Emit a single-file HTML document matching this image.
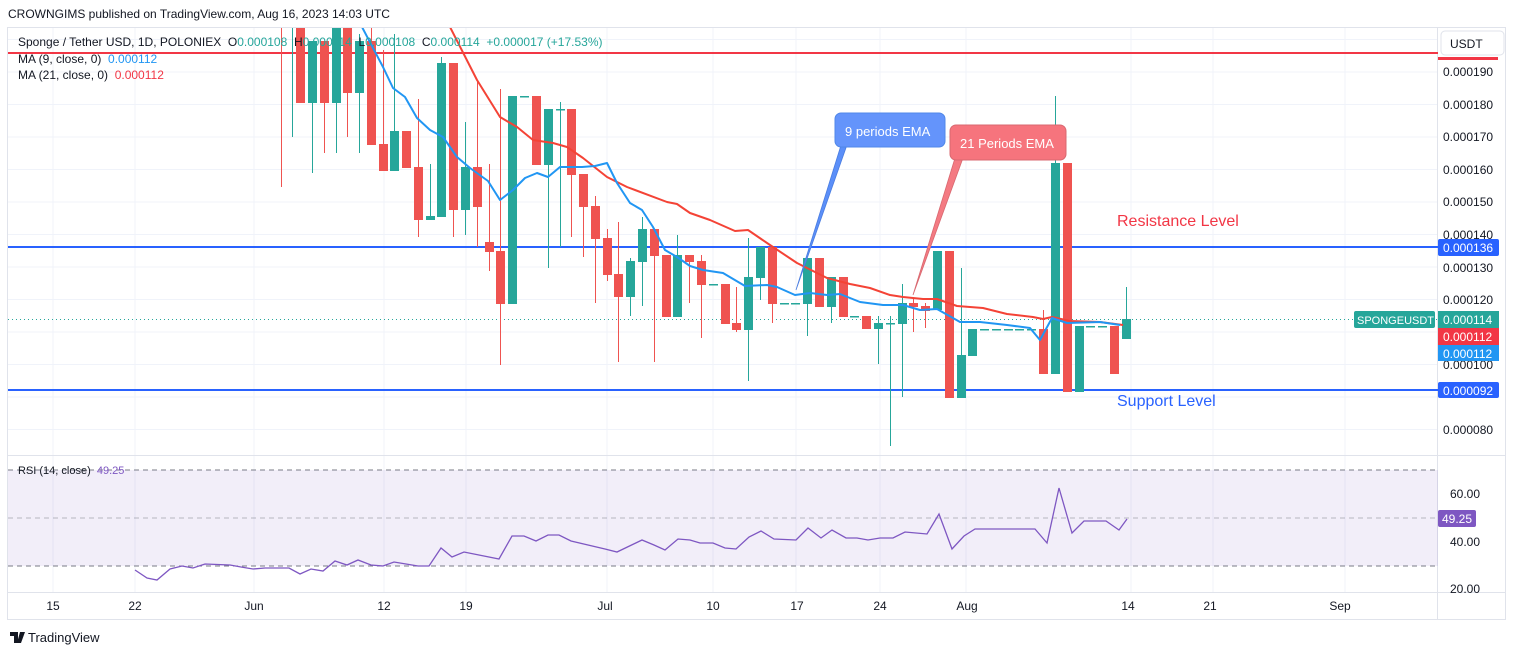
<!DOCTYPE html>
<html><head><meta charset="utf-8"><style>
body{margin:0;background:#fff;width:1515px;height:655px;overflow:hidden;font-family:"Liberation Sans",sans-serif}
svg text{font-family:"Liberation Sans",sans-serif;white-space:pre}
</style></head><body>
<svg width="1515" height="655" viewBox="0 0 1515 655" xmlns="http://www.w3.org/2000/svg" xml:space="preserve">
<defs><clipPath id="mp"><rect x="8" y="28" width="1430" height="427"/></clipPath>
<clipPath id="rp"><rect x="8" y="456" width="1430" height="136"/></clipPath></defs>
<text x="8" y="18" font-size="12" fill="#131722">CROWNGIMS published on TradingView.com, Aug 16, 2023 14:03 UTC</text>
<rect x="7.5" y="27.5" width="1498" height="592" fill="#fff" stroke="#e0e3eb"/>
<g stroke="#f0f3fa" stroke-width="1">
<path d="M8 39.5H1438M8 72H1438M8 104.5H1438M8 137H1438M8 169.5H1438M8 202H1438M8 234.5H1438M8 267H1438M8 299.5H1438M8 332H1438M8 364.5H1438M8 397H1438M8 429.5H1438"/>
<path d="M53 28V592M135 28V592M254 28V592M384 28V592M466 28V592M607 28V592M713 28V592M796 28V592M880 28V592M966 28V592M1131 28V592M1213 28V592M1345 28V592"/>
</g>
<line x1="8" y1="455.5" x2="1505" y2="455.5" stroke="#e0e3eb"/>
<line x1="8" y1="592.5" x2="1505" y2="592.5" stroke="#e0e3eb"/>
<line x1="1437.5" y1="28" x2="1437.5" y2="620" stroke="#e0e3eb"/>
<g clip-path="url(#mp)">
<line x1="8" y1="53" x2="1438" y2="53" stroke="#f23645" stroke-width="2"/>
<line x1="8" y1="247" x2="1438" y2="247" stroke="#2962ff" stroke-width="2"/>
<line x1="8" y1="390" x2="1438" y2="390" stroke="#2962ff" stroke-width="2"/>
<line x1="8" y1="319.5" x2="1438" y2="319.5" stroke="#26a69a" stroke-dasharray="1 3"/>
<g fill="#26a69a" stroke="#26a69a" stroke-width="1">
<path fill="none" d="M292.5 20V137M312.5 41V173M336.5 20V153M359.5 34V153M394.5 34V171M430.5 164V220M441.5 57V217M465.5 122V235M548.5 109V268M560.5 102V247M630.5 258V316M642.5 217V306M677.5 235V317M748.5 238V381M760.5 247V300M807.5 258V336M831.5 277V323M878.5 316V364M890.5 316V446M902.5 284V397M961.5 268V398M1055.5 96V374M1126.5 287V339"/>
<g stroke="none">
<rect x="288" y="20" width="9" height="5"/><rect x="308" y="41" width="9" height="62"/><rect x="332" y="20" width="9" height="83"/><rect x="355" y="41" width="9" height="52"/><rect x="390" y="131" width="9" height="40"/><rect x="426" y="216" width="9" height="4"/><rect x="437" y="63" width="9" height="154"/><rect x="461" y="167" width="9" height="43"/><rect x="508" y="96" width="9" height="208"/><rect x="520" y="96" width="9" height="1.5"/><rect x="544" y="109" width="9" height="56"/><rect x="556" y="109" width="9" height="1.5"/><rect x="626" y="261" width="9" height="36"/><rect x="638" y="229" width="9" height="33"/><rect x="673" y="255" width="9" height="62"/><rect x="709" y="284" width="9" height="1.5"/><rect x="744" y="277" width="9" height="53"/><rect x="756" y="247" width="9" height="31"/><rect x="780" y="303" width="9" height="1.5"/><rect x="791" y="303" width="9" height="1.5"/><rect x="803" y="258" width="9" height="46"/><rect x="827" y="277" width="9" height="30"/><rect x="850" y="316" width="9" height="1.5"/><rect x="874" y="323" width="9" height="6"/><rect x="886" y="323" width="9" height="1.5"/><rect x="898" y="303" width="9" height="21"/><rect x="933" y="251" width="9" height="59"/><rect x="957" y="355" width="9" height="43"/><rect x="968" y="329" width="9" height="27"/><rect x="980" y="329" width="9" height="1.5"/><rect x="992" y="329" width="9" height="1.5"/><rect x="1004" y="329" width="9" height="1.5"/><rect x="1015" y="329" width="9" height="1.5"/><rect x="1027" y="329" width="9" height="1.5"/><rect x="1051" y="163" width="9" height="211"/><rect x="1075" y="326" width="9" height="66"/><rect x="1086" y="326" width="9" height="1.5"/><rect x="1098" y="326" width="9" height="1.5"/><rect x="1122" y="319" width="9" height="20"/>
</g></g>
<g fill="#ef5350" stroke="#ef5350" stroke-width="1">
<path fill="none" d="M281.5 20V187M324.5 41V153M347.5 20V137M371.5 20V145M383.5 50V171M418.5 99V237M453.5 63V237M477.5 80V247M489.5 164V271M500.5 89V365M571.5 109V237M583.5 174V257M595.5 196V303M607.5 229V281M618.5 222V362M654.5 229V362M689.5 255V303M701.5 255V338M736.5 287V332M772.5 247V323M913.5 299V332M925.5 303V328M1043.5 310V374"/>
<g stroke="none">
<rect x="296" y="20" width="9" height="83"/><rect x="320" y="41" width="9" height="62"/><rect x="343" y="20" width="9" height="73"/><rect x="367" y="41" width="9" height="104"/><rect x="379" y="144" width="9" height="27"/><rect x="402" y="131" width="9" height="37"/><rect x="414" y="167" width="9" height="53"/><rect x="449" y="63" width="9" height="147"/><rect x="473" y="167" width="9" height="40"/><rect x="485" y="242" width="9" height="10"/><rect x="496" y="251" width="9" height="53"/><rect x="532" y="96" width="9" height="69"/><rect x="567" y="109" width="9" height="66"/><rect x="579" y="174" width="9" height="33"/><rect x="591" y="206" width="9" height="33"/><rect x="603" y="238" width="9" height="37"/><rect x="614" y="274" width="9" height="23"/><rect x="650" y="229" width="9" height="27"/><rect x="662" y="255" width="9" height="62"/><rect x="685" y="255" width="9" height="7"/><rect x="697" y="261" width="9" height="24"/><rect x="721" y="284" width="9" height="40"/><rect x="732" y="323" width="9" height="7"/><rect x="768" y="247" width="9" height="57"/><rect x="815" y="258" width="9" height="49"/><rect x="839" y="277" width="9" height="40"/><rect x="862" y="316" width="9" height="13"/><rect x="909" y="303" width="9" height="4"/><rect x="921" y="306" width="9" height="5"/><rect x="945" y="251" width="9" height="147"/><rect x="1039" y="329" width="9" height="45"/><rect x="1063" y="163" width="9" height="229"/><rect x="1110" y="326" width="9" height="48"/>
</g></g>
<polyline fill="none" stroke="#f44336" stroke-width="2" stroke-linejoin="round" points="445,20 450,27 477,80 500,117 517,127 533,140 553,143 567,147 583,158 607,177 627,187 667,202 677,204 690,213 710,220 735,231 748,230 770,245 797,263 827,278 850,284 870,288 890,295 903,297 923,299 937,299 957,306 983,308 1007,314 1033,317 1043,319 1052,317 1070,321 1100,322 1123,325"/>
<polyline fill="none" stroke="#2196f3" stroke-width="2" stroke-linejoin="round" points="358,20 362,27 383,67 393,88 405,97 417,118 430,130 443,137 457,157 470,168 488,181 500,200 513,190 525,178 537,173 548,177 560,167 582,167 595,166 607,163 617,183 630,203 642,210 653,227 665,250 677,257 690,266 703,270 723,273 745,286 767,285 777,287 795,295 810,293 827,295 840,294 860,302 883,305 903,305 920,310 937,309 960,322 980,322 1007,325 1030,328 1040,340 1052,318 1067,323 1100,322 1120,325"/>
</g>
<path d="M842 142 L796 290 L848 142 Z" fill="#5b8ff9" stroke="#4a7de0" stroke-width="0.8"/>
<rect x="835" y="113" width="110" height="34" rx="6" fill="#6494fb" stroke="#5087e8"/>
<text x="845" y="136" font-size="13" fill="#fff">9 periods EMA</text>
<path d="M955 158 L913 295 L963 158 Z" fill="#f47a82" stroke="#d86870" stroke-width="0.8"/>
<rect x="950" y="125" width="116" height="35" rx="6" fill="#f6747d" stroke="#d86870"/>
<text x="960" y="148" font-size="13" fill="#fff">21 Periods EMA</text>
<text x="1117" y="226" font-size="16" fill="#f23645">Resistance Level</text>
<text x="1117" y="406" font-size="16" fill="#2962ff">Support Level</text>
<text x="18" y="46" font-size="12" fill="#131722">Sponge / Tether USD, 1D, POLONIEX  O<tspan fill="#26a69a">0.000108</tspan>  H<tspan fill="#26a69a">0.000114</tspan>  L<tspan fill="#26a69a">0.000108</tspan>  C<tspan fill="#26a69a">0.000114</tspan>  <tspan fill="#26a69a">+0.000017 (+17.53%)</tspan></text>
<text x="18" y="63" font-size="12" fill="#131722">MA (9, close, 0)  <tspan fill="#2196f3">0.000112</tspan></text>
<text x="18" y="79" font-size="12" fill="#131722">MA (21, close, 0)  <tspan fill="#f23645">0.000112</tspan></text>
<rect x="1441" y="31" width="63" height="24" rx="4" fill="#fff" stroke="#e0e3eb"/>
<text x="1450" y="48" font-size="12" fill="#131722">USDT</text>
<rect x="1438" y="57" width="60" height="3" fill="#f23645"/>
<g font-size="12" fill="#131722">
<text x="1443" y="76">0.000190</text><text x="1443" y="109">0.000180</text><text x="1443" y="141">0.000170</text><text x="1443" y="174">0.000160</text><text x="1443" y="206">0.000150</text><text x="1443" y="239">0.000140</text><text x="1443" y="272">0.000130</text><text x="1443" y="304">0.000120</text><text x="1443" y="369">0.000100</text><text x="1443" y="434">0.000080</text>
</g>
<rect x="1438" y="239" width="61" height="17" rx="2" fill="#2962ff"/><text x="1443" y="252" font-size="12" fill="#fff">0.000136</text>
<rect x="1354" y="311" width="81" height="17" rx="2" fill="#26a69a"/><text x="1357" y="324" font-size="11" fill="#fff">SPONGEUSDT</text>
<rect x="1438" y="311" width="61" height="17" fill="#26a69a"/><text x="1443" y="324" font-size="12" fill="#fff">0.000114</text>
<rect x="1438" y="328" width="61" height="17" fill="#f23645"/><text x="1443" y="341" font-size="12" fill="#fff">0.000112</text>
<rect x="1438" y="345" width="61" height="16" fill="#2196f3"/><text x="1443" y="358" font-size="12" fill="#fff">0.000112</text>
<rect x="1438" y="382" width="61" height="16" rx="2" fill="#2962ff"/><text x="1443" y="395" font-size="12" fill="#fff">0.000092</text>
<g clip-path="url(#rp)">
<rect x="8" y="470" width="1430" height="96" fill="#7e57c2" fill-opacity="0.1"/>
<g stroke="#787b86" stroke-dasharray="5 4" stroke-width="1">
<line x1="8" y1="470" x2="1438" y2="470"/><line x1="8" y1="518" x2="1438" y2="518" stroke-opacity="0.5"/><line x1="8" y1="566" x2="1438" y2="566"/></g>
<polyline fill="none" stroke="#7e57c2" stroke-width="1.3" points="135,570 147,578 157,580 170,569 182,566 193,568 205,564 230,565 241,567 253,569 265,568 289,568 300,574 311,569 323,571 335,561 347,565 358,560 371,565 383,566 394,562 406,564 418,566 429,566 441,548 452,557 464,552 499,559 512,536 524,536 536,541 548,535 559,535 571,541 605,549 617,552 642,540 654,545 665,550 678,539 690,540 700,543 713,543 725,548 736,549 749,537 761,531 774,539 796,540 808,528 821,538 832,530 846,538 857,538 868,540 880,538 893,538 905,532 927,534 939,514 952,549 964,536 975,529 1035,529 1047,543 1059,488 1072,533 1084,521 1106,521 1119,530 1127,519"/>
</g>
<text x="18" y="474" font-size="11" fill="#131722">RSI (14, close)  <tspan fill="#7e57c2">49.25</tspan></text>
<g font-size="12" fill="#131722"><text x="1450" y="498">60.00</text><text x="1450" y="546">40.00</text><text x="1450" y="593">20.00</text></g>
<rect x="1438" y="510" width="38" height="17" rx="2" fill="#7e57c2"/><text x="1442" y="523" font-size="12" fill="#fff">49.25</text>
<g font-size="12" fill="#131722" text-anchor="middle">
<text x="53" y="610">15</text><text x="135" y="610">22</text><text x="254" y="610">Jun</text><text x="384" y="610">12</text><text x="466" y="610">19</text><text x="605" y="610">Jul</text><text x="713" y="610">10</text><text x="797" y="610">17</text><text x="880" y="610">24</text><text x="967" y="610">Aug</text><text x="1128" y="610">14</text><text x="1210" y="610">21</text><text x="1340" y="610">Sep</text>
</g>
<path d="M10 632h8v11h-4v-7h-4z M20 632h5l-4 11h-4z" fill="#131722"/>
<text x="28" y="642" font-size="13" fill="#131722">TradingView</text>
</svg>
</body></html>
